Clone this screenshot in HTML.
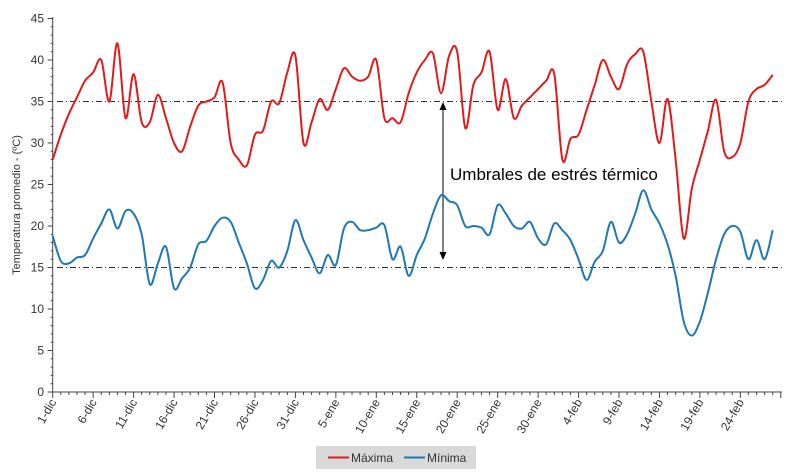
<!DOCTYPE html>
<html><head><meta charset="utf-8"><style>
body{margin:0;background:#fff}
svg text{font-family:"Liberation Sans",sans-serif;fill:#333}
</style></head><body>
<svg id="s" width="800" height="471" xmlns="http://www.w3.org/2000/svg">
<rect width="800" height="471" fill="#fff"/>
<g id="ax" stroke="#444" stroke-width="1"></g>
<g id="lbl" font-size="12"></g>
<text transform="translate(20,205) rotate(-90)" text-anchor="middle" font-size="11">Temperatura promedio - (ºC)</text>
<line x1="57" y1="101.5" x2="782" y2="101.5" stroke="#333" stroke-dasharray="6,3,1,3"/>
<line x1="57" y1="267.5" x2="782" y2="267.5" stroke="#333" stroke-dasharray="6,3,1,3"/>
<line x1="443" y1="106" x2="443" y2="256" stroke="#000" stroke-width="1"/>
<path d="M443,102 l-3.5,8 h7z M443,260 l-3.5,-8 h7z" fill="#000"/>
<text x="450" y="180" font-size="17" style="fill:#000">Umbrales de estrés térmico</text>
<path id="r" fill="none" stroke="#e31a1c" stroke-width="2"/>
<path id="b" fill="none" stroke="#1f77b4" stroke-width="2"/>
<rect x="316" y="446" width="160" height="23" fill="#d9d9d9"/>
<line x1="328" y1="457.5" x2="349" y2="457.5" stroke="#e31a1c" stroke-width="2"/>
<text x="351" y="462" font-size="12">Máxima</text>
<line x1="404" y1="457.5" x2="425" y2="457.5" stroke="#1f77b4" stroke-width="2"/>
<text x="427" y="462" font-size="12">Mínima</text>
</svg>
<script>
const X0=52.7,DX=8.09,Y0=392,DY=8.3;
const ax=document.getElementById('ax'),lb=document.getElementById('lbl');
let h='';
h+=`<line x1="${X0}" y1="17" x2="${X0}" y2="${Y0}"/><line x1="${X0}" y1="${Y0}" x2="782" y2="${Y0}"/>`;
let t='';
for(let v=0;v<=45;v++){const y=Y0-v*DY;h+=`<line x1="${v%5?X0-2:X0-5}" y1="${y}" x2="${X0}" y2="${y}"/>`;if(v%5==0)t+=`<text x="44" y="${y+4}" text-anchor="end">${v}</text>`;}
const labs=['1-dic','6-dic','11-dic','16-dic','21-dic','26-dic','31-dic','5-ene','10-ene','15-ene','20-ene','25-ene','30-ene','4-feb','9-feb','14-feb','19-feb','24-feb'];
for(let d=0;d<=90;d++){const x=X0+d*DX;h+=`<line x1="${x}" y1="${Y0}" x2="${x}" y2="${Y0+(d%5?3:6)}"/>`;if(d%5==0&&d/5<labs.length)t+=`<text transform="translate(${x+4},${Y0+10}) rotate(-60)" text-anchor="end">${labs[d/5]}</text>`;}
ax.innerHTML=h;lb.innerHTML=t;
const R=[28,31,33.5,35.5,37.5,38.5,40,35,42,33,38.3,32.5,32.5,35.8,33,30,29,32,34.5,35,35.5,37.3,30,28,27.3,31,31.5,35,34.8,38.5,40.5,30,32.5,35.3,34,36.5,39,38,37.5,38,40,33,33,32.5,36,38.5,40,40.8,36,40.5,41,31.8,37,38.5,41,34,37.7,33,34.5,35.5,36.5,37.5,38.3,28,30.5,31,34,37,40,38,36.5,39.5,40.7,41,35,30,35.3,28,18.5,24.5,28,31.5,35.2,29,28.3,30,35,36.5,37,38.2];
const B=[18.8,15.8,15.5,16.2,16.5,18.5,20.3,22,19.7,21.8,21.5,19,13,15.5,17.5,12.5,13.7,15,17.8,18.2,20,21,20.5,18,15.5,12.5,13.5,15.8,15,17,20.7,18.3,16.2,14.3,16.5,15.3,19.7,20.5,19.5,19.5,19.8,20.1,16,17.5,14,16.5,18.5,21.5,23.7,23,22.5,20,20,19.8,19,22.5,21.5,20,19.7,20.5,18.5,17.8,20.3,19.5,18.3,16,13.5,15.7,17,20.5,18,19,21.5,24.3,22,20.3,17.8,14,8.5,6.8,8.5,12,16,19,20,19.3,16,18.3,16,19.5];
function path(a){const p=a.map((v,i)=>[X0+i*DX,Y0-v*DY]);let d=`M${p[0][0]},${p[0][1]}`;
for(let i=0;i<p.length-1;i++){const p0=p[Math.max(i-1,0)],p1=p[i],p2=p[i+1],p3=p[Math.min(i+2,p.length-1)];
d+=` C${p1[0]+(p2[0]-p0[0])/6},${p1[1]+(p2[1]-p0[1])/6} ${p2[0]-(p3[0]-p1[0])/6},${p2[1]-(p3[1]-p1[1])/6} ${p2[0]},${p2[1]}`;}return d;}
document.getElementById('r').setAttribute('d',path(R));
document.getElementById('b').setAttribute('d',path(B));
</script>
</body></html>
